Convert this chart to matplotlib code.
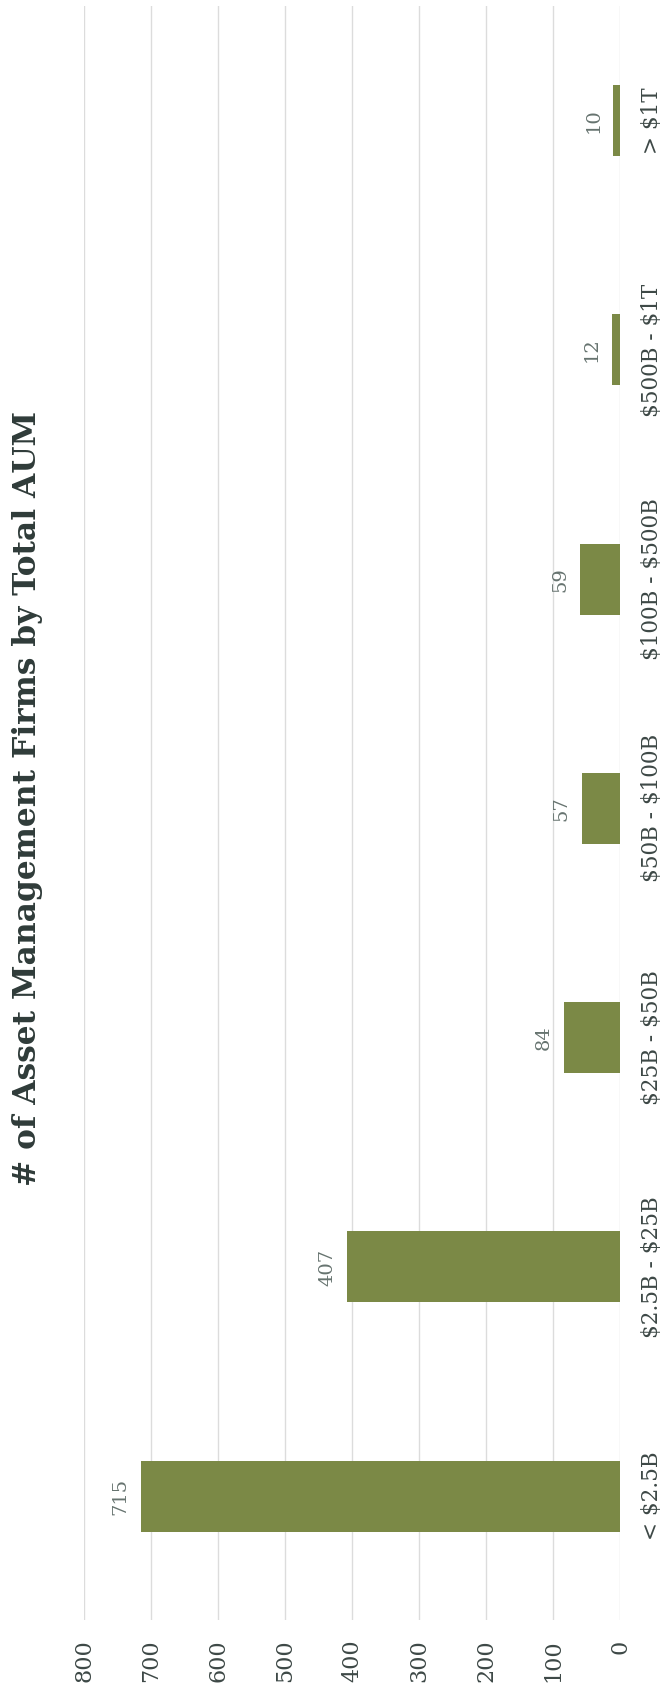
import matplotlib.pyplot as plt
import numpy as np

# AUM buckets and firm counts
categories = ['< $2.5B', '$2.5B - $25B', '$25B - $50B', '$50B - $100B',
              '$100B - $500B', '$500B - $1T', '> $1T']
firm_counts = [715, 407, 84, 57, 59, 12, 10]
value_ticks = [0, 100, 200, 300, 400, 500, 600, 700, 800]

title_color = '#2f3b39'
text_color = '#3d4846'
label_color = '#66736f'
bar_color = '#7b8946'
grid_color = '#dcdcdc'

plt.rcParams['font.family'] = ['DejaVu Serif']
plt.rcParams['text.parse_math'] = False

fig = plt.figure(figsize=(6.65, 16.88), dpi=100)
ax = fig.add_axes([84 / 665, 68 / 1688, 536 / 665, 1614 / 1688])

pos = np.arange(len(categories))
ax.barh(pos, firm_counts, height=0.31, color=bar_color, zorder=3)

# value labels sit just past the end of each bar
for p, v in zip(pos, firm_counts):
    ax.annotate(str(v), (v, p), xytext=(-8, 0), textcoords='offset points',
                ha='right', va='center', rotation=90, fontsize=14,
                color=label_color)

ax.set_xlim(800, 0)
ax.set_ylim(-0.54, len(categories) - 0.5)
ax.set_xticks(value_ticks)
ax.set_xticklabels([str(t) for t in value_ticks], rotation=90, fontsize=16,
                   color=text_color)
ax.tick_params(axis='x', length=0, pad=14)

ax.yaxis.tick_right()
ax.set_yticks(pos)
ax.set_yticklabels(categories, rotation=90, va='center', fontsize=15.5,
                   color=text_color)
ax.tick_params(axis='y', length=0, pad=15)

ax.grid(axis='x', color=grid_color, linewidth=1, zorder=0)
for s in ax.spines.values():
    s.set_visible(False)

fig.text(0.041, 0.527,
         '# of Asset Management Firms by Total AUM',
         rotation=90, ha='center', va='center', fontsize=22.5,
         fontweight='bold', color=title_color)

fig.savefig('out.png', dpi=100)
